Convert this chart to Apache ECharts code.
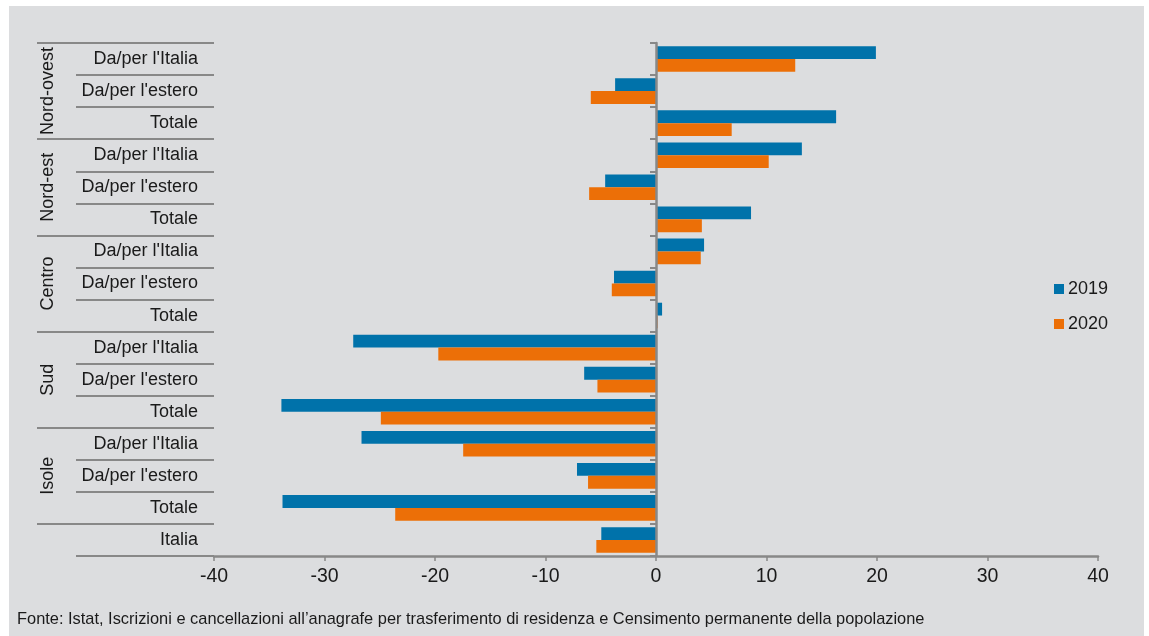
<!DOCTYPE html>
<html><head><meta charset="utf-8">
<script src="https://cdn.jsdelivr.net/npm/echarts@6/dist/echarts.min.js"></script>
<style>
html,body{margin:0;padding:0;background:#ffffff;}
#bg{position:absolute;left:9px;top:6px;width:1135px;height:630px;background:#dcdddf;}
#chart{position:absolute;left:0;top:0;width:1149px;height:636px;}
</style></head><body>
<div id="bg"></div><div id="chart"></div>
<script>
// ---- data ----
const rowLabels = [
  "Da/per l'Italia", "Da/per l'estero", "Totale",
  "Da/per l'Italia", "Da/per l'estero", "Totale",
  "Da/per l'Italia", "Da/per l'estero", "Totale",
  "Da/per l'Italia", "Da/per l'estero", "Totale",
  "Da/per l'Italia", "Da/per l'estero", "Totale",
  "Italia"
];
const groupLabels = ["Nord-ovest", "Nord-est", "Centro", "Sud", "Isole"];
const seriesNames = ["2019", "2020"];
const values2019 = [19.9, -3.7, 16.3, 13.2, -4.6, 8.6, 4.35, -3.8, 0.55, -27.4, -6.5, -33.9, -26.65, -7.15, -33.8, -4.95];
const values2020 = [12.6, -5.9, 6.85, 10.2, -6.05, 4.15, 4.05, -4.0, 0.15, -19.7, -5.3, -24.9, -17.45, -6.15, -23.6, -5.4];
const xMin = -40, xMax = 40, xInterval = 10;
const sourceNote = "Fonte: Istat, Iscrizioni e cancellazioni all\u2019anagrafe per trasferimento di residenza e Censimento permanente della popolazione";

// ---- styles ----
const BLUE = '#0072aa', ORANGE = '#ec6f07', GRAY = '#888888', TEXT = '#1a1a1a';
const SANS = "'Liberation Sans', Arial, sans-serif";

const chart = echarts.init(document.getElementById('chart'), null, {renderer: 'canvas'});
const gridTop = 43, gridBottom = 80;
const option = {
  animation: false,
  backgroundColor: 'transparent',
  title: {
    text: sourceNote, left: 12, top: 606,
    textStyle: {fontFamily: SANS, fontSize: 16.4, fontWeight: 'normal', color: TEXT}
  },
  legend: {
    orient: 'vertical', left: 1049, top: 275, itemWidth: 10, itemHeight: 10, itemGap: 17,
    icon: 'rect', data: seriesNames,
    textStyle: {fontFamily: SANS, fontSize: 18, color: TEXT, padding: [0, 0, 0, -1]}
  },
  grid: [
    {left: 214, right: 51, top: gridTop, bottom: gridBottom},
    {left: 76, width: 138, top: gridTop, bottom: gridBottom},
    {left: 37, width: 39, top: gridTop, bottom: 636 - (gridTop + (636 - gridTop - gridBottom) * 15 / 16)}
  ],
  xAxis: [
    {gridIndex: 0, type: 'value', min: xMin, max: xMax, interval: xInterval,
     axisLine: {show: true, lineStyle: {color: GRAY, width: 2.5}},
     axisTick: {show: true, length: 5, lineStyle: {color: GRAY, width: 1.5}},
     axisLabel: {fontFamily: SANS, fontSize: 19.5, color: TEXT, margin: 11},
     splitLine: {show: false}},
    {gridIndex: 1, type: 'value', min: 0, max: 1, show: false},
    {gridIndex: 2, type: 'value', min: 0, max: 1, show: false}
  ],
  yAxis: [
    {gridIndex: 0, type: 'category', data: rowLabels, inverse: true, position: 'left',
     axisLine: {show: false, onZero: false}, axisTick: {show: false},
     axisLabel: {interval: 0, margin: 16, fontFamily: SANS, fontSize: 18, color: TEXT},
     splitLine: {show: false}},
    {gridIndex: 0, type: 'category', data: rowLabels, inverse: true, position: 'right', z: 5,
     axisLine: {show: true, onZero: true, lineStyle: {color: GRAY, width: 2.5}},
     axisTick: {show: true, inside: true, length: 6, interval: 0, lineStyle: {color: GRAY, width: 2}},
     axisLabel: {show: false}, splitLine: {show: false}},
    {gridIndex: 1, type: 'category', data: rowLabels, inverse: true,
     axisLine: {show: false, onZero: false}, axisTick: {show: false}, axisLabel: {show: false},
     splitLine: {show: true, interval: 0, lineStyle: {color: GRAY, width: 2}}},
    {gridIndex: 2, type: 'category', data: groupLabels, inverse: true, position: 'left',
     axisLine: {show: false, onZero: false}, axisTick: {show: false},
     axisLabel: {show: true, inside: true, rotate: 90, margin: 2, interval: 0,
                 fontFamily: SANS, fontSize: 18, color: TEXT},
     splitLine: {show: true, interval: 0, lineStyle: {color: GRAY, width: 2}}}
  ],
  series: [
    {name: seriesNames[0], type: 'bar', xAxisIndex: 0, yAxisIndex: 0, data: values2019,
     itemStyle: {color: BLUE}, barGap: '0%', barCategoryGap: '20%'},
    {name: seriesNames[1], type: 'bar', xAxisIndex: 0, yAxisIndex: 0, data: values2020,
     itemStyle: {color: ORANGE}, barGap: '0%', barCategoryGap: '20%'}
  ]
};
chart.setOption(option);
</script>
</body></html>
